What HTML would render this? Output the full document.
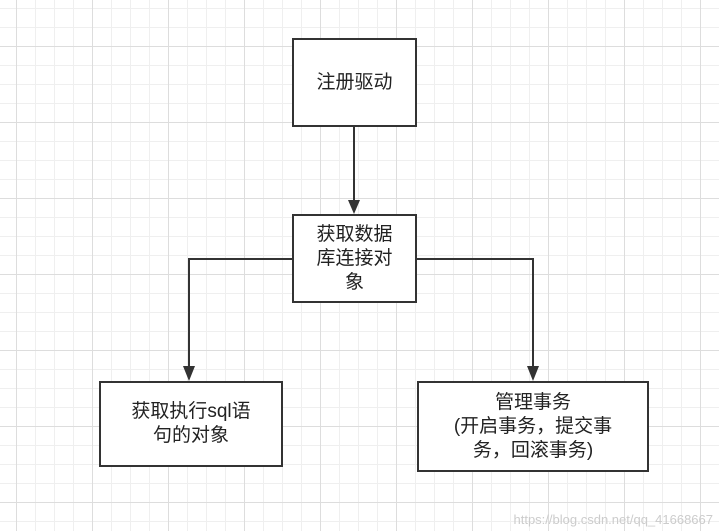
<!DOCTYPE html>
<html><head><meta charset="utf-8"><style>
body{margin:0;width:719px;height:531px;overflow:hidden;background:#fff;
background-image:linear-gradient(#ddd 1px,transparent 1px),linear-gradient(90deg,#ddd 1px,transparent 1px),linear-gradient(#efefef 1px,transparent 1px),linear-gradient(90deg,#efefef 1px,transparent 1px);
background-size:76px 76px,76px 76px,19px 19px,19px 19px;background-position:16px 46px,16px 46px,16px 8px,16px 8px;
font-family:"Liberation Sans","Noto Sans CJK SC",sans-serif;}
.b{position:absolute;border:2px solid #333;background:#fff;box-sizing:border-box;display:flex;align-items:center;justify-content:center;text-align:center;font-size:19px;color:#222;line-height:24px}
.w{position:absolute;right:6px;bottom:4px;font-size:13px;color:#ccc}
</style></head><body>
<svg width="719" height="531" style="position:absolute;left:0;top:0">
<g stroke="#333" stroke-width="2" fill="none">
<path d="M354 127V202"/><path d="M292 259H189V368"/><path d="M417 259H533V368"/>
</g>
<g fill="#333"><path d="M348 200L360 200L354 214Z"/><path d="M183 366L195 366L189 381Z"/><path d="M527 366L539 366L533 381Z"/></g>
</svg>
<div class="b" style="left:292px;top:38px;width:125px;height:89px">注册驱动</div>
<div class="b" style="left:292px;top:214px;width:125px;height:89px">获取数据<br>库连接对<br>象</div>
<div class="b" style="left:99px;top:381px;width:184px;height:86px">获取执行sql语<br>句的对象</div>
<div class="b" style="left:417px;top:381px;width:232px;height:91px">管理事务<br>(开启事务，提交事<br>务，回滚事务)</div>
<div class="w">https://blog.csdn.net/qq_41668667</div>
</body></html>
